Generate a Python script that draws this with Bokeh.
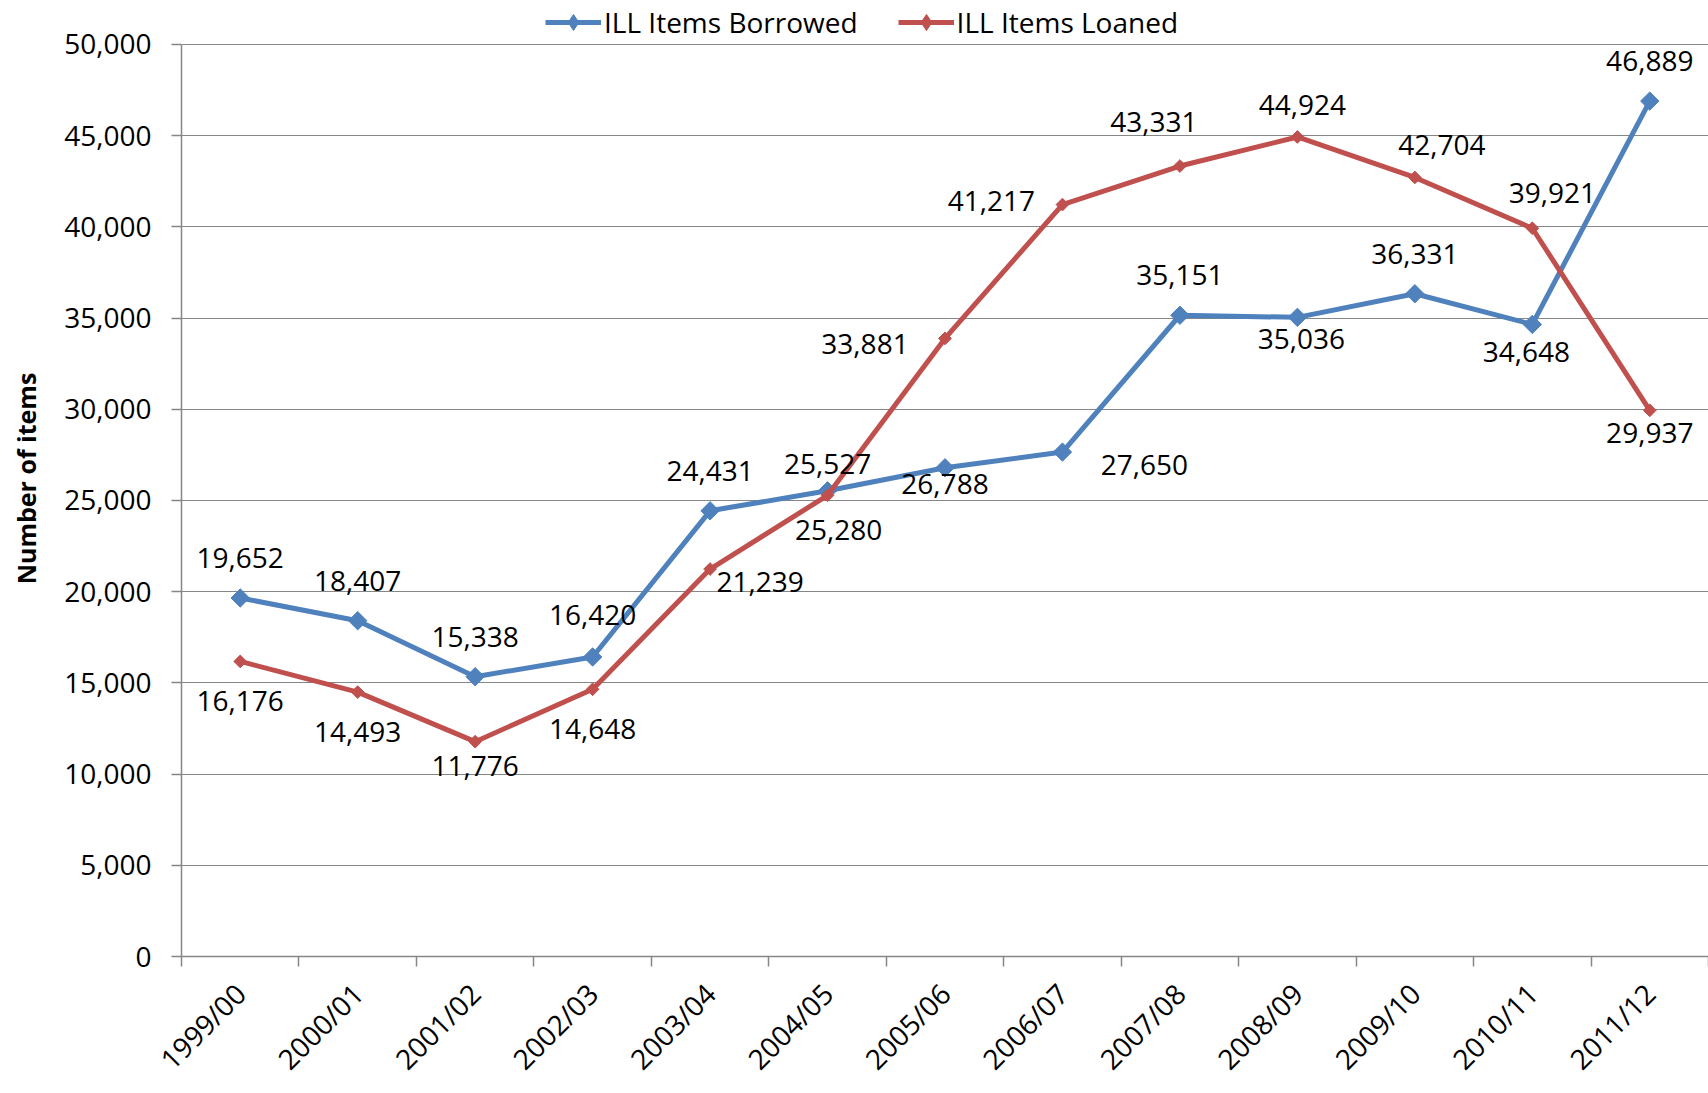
from bokeh.plotting import figure
from bokeh.models import (Range1d, FixedTicker, NumeralTickFormatter, Legend, LegendItem,
                          ColumnDataSource)
from bokeh.core.properties import value
from bokeh.embed import file_html
from bokeh.resources import INLINE
import math

# ---------------- data ----------------
years = ["1999/00", "2000/01", "2001/02", "2002/03", "2003/04", "2004/05", "2005/06",
         "2006/07", "2007/08", "2008/09", "2009/10", "2010/11", "2011/12"]
borrowed = [19652, 18407, 15338, 16420, 24431, 25527, 26788, 27650, 35151, 35036, 36331, 34648, 46889]
loaned = [16176, 14493, 11776, 14648, 21239, 25280, 33881, 41217, 43331, 44924, 42704, 39921, 29937]
y_ticks = [0, 5000, 10000, 15000, 20000, 25000, 30000, 35000, 40000, 45000, 50000]

# ---------------- label placement (screen px offsets) ----------------
borrowed_dx = [0, 0, 0, 0, 0, 0, 0, 82, 0, 4, 0, -6, 0]
borrowed_dy = [-40, -40, -40, -42, -40, -27, 16, 13, -40, 22, -40, 28, -40]
loaned_dx = [0, 0, 0, 0, 50, 11, -80, -71, -26, 5, 27, 20, 0]
loaned_dy = [40, 40, 24, 40, 13, 35, 6, -4, -44, -32, -32, -35, 23]

FONT = "Open Sans"
BLUE = "#4F81BD"
RED = "#C0504D"
GRID = "#868686"
FS = "28px"

W, H = 1708, 1093
BORDER_BOTTOM = 134
TOP_GAP = 44          # px between figure top and the 50,000 gridline (room for legend)
frame_h = H - BORDER_BOTTOM
y_end = y_ticks[-1] * frame_h / (frame_h - TOP_GAP)

n = len(years)
xc = [i + 0.5 for i in range(n)]

p = figure(width=W, height=H, output_backend="svg", toolbar_location=None,
           x_range=Range1d(0, n), y_range=Range1d(0, y_end),
           min_border_left=181, min_border_right=0, min_border_top=0,
           min_border_bottom=BORDER_BOTTOM)
p.outline_line_color = None
p.background_fill_color = "white"
p.border_fill_color = "white"

# axes
p.xaxis.ticker = FixedTicker(ticks=xc, minor_ticks=list(range(n + 1)))
p.xaxis.major_label_overrides = {x: y for x, y in zip(xc, years)}
p.xaxis.major_tick_out = 0
p.xaxis.major_tick_in = 0
p.xaxis.minor_tick_out = 10
p.xaxis.minor_tick_in = 0
p.xaxis.minor_tick_line_color = GRID
p.xaxis.minor_tick_line_width = 1.5
p.xaxis.axis_line_color = GRID
p.xaxis.axis_line_width = 1.5
p.xaxis.major_label_orientation = math.pi / 4
p.xaxis.major_label_standoff = 22
p.xaxis.major_label_text_font = FONT
p.xaxis.major_label_text_font_size = FS
p.xaxis.major_label_text_color = "black"

p.yaxis.ticker = FixedTicker(ticks=y_ticks)
p.yaxis.bounds = (y_ticks[0], y_ticks[-1])
p.yaxis.formatter = NumeralTickFormatter(format="0,0")
p.yaxis.major_tick_out = 10
p.yaxis.major_tick_in = 0
p.yaxis.minor_tick_out = 0
p.yaxis.minor_tick_in = 0
p.yaxis.major_tick_line_color = GRID
p.yaxis.major_tick_line_width = 1.5
p.yaxis.axis_line_color = GRID
p.yaxis.axis_line_width = 1.5
p.yaxis.major_label_standoff = 20
p.yaxis.major_label_text_font = FONT
p.yaxis.major_label_text_font_size = FS
p.yaxis.major_label_text_color = "black"
p.yaxis.axis_label = "Number of items"
p.yaxis.axis_label_text_font = FONT
p.yaxis.axis_label_text_font_style = "bold"
p.yaxis.axis_label_text_font_size = "25px"
p.yaxis.axis_label_text_color = "black"
p.yaxis.axis_label_standoff = 18

p.xgrid.grid_line_color = None
p.ygrid.grid_line_color = GRID
p.ygrid.grid_line_width = 1.2

src_b = ColumnDataSource(dict(x=xc, y=borrowed, lab=[f"{v:,}" for v in borrowed],
                              dx=borrowed_dx, dy=borrowed_dy))
src_l = ColumnDataSource(dict(x=xc, y=loaned, lab=[f"{v:,}" for v in loaned],
                              dx=loaned_dx, dy=loaned_dy))

lb = p.line("x", "y", source=src_b, line_color=BLUE, line_width=5)
mb = p.scatter("x", "y", source=src_b, marker="square", angle=math.pi / 4, size=13,
               fill_color=BLUE, line_color=BLUE)
ll = p.line("x", "y", source=src_l, line_color=RED, line_width=5)
ml = p.scatter("x", "y", source=src_l, marker="square", angle=math.pi / 4, size=9,
               fill_color=RED, line_color=RED)

# legend-only marker glyphs (a single undrawn NaN point each)
kb = p.scatter(x=[float("nan")], y=[float("nan")], marker="diamond", size=18,
               fill_color=BLUE, line_color=BLUE)
kl = p.scatter(x=[float("nan")], y=[float("nan")], marker="diamond", size=13,
               fill_color=RED, line_color=RED)

for src in (src_b, src_l):
    p.text("x", "y", text="lab", source=src, x_offset="dx", y_offset="dy",
           text_font=value(FONT), text_font_size=FS, text_color="black",
           text_align="center", text_baseline="middle")

legend = Legend(items=[LegendItem(label="ILL Items Borrowed", renderers=[lb, kb]),
                       LegendItem(label="ILL Items Loaned", renderers=[ll, kl])],
                orientation="horizontal", location=(364, frame_h - 45),
                glyph_width=56, glyph_height=40, label_standoff=3, spacing=40,
                padding=0, margin=0, border_line_color=None, background_fill_alpha=0,
                label_text_font=FONT, label_text_font_size=FS, label_text_color="black",
                label_height=30)
p.add_layout(legend, "center")

open("out.html", "w").write(file_html(p, INLINE))
